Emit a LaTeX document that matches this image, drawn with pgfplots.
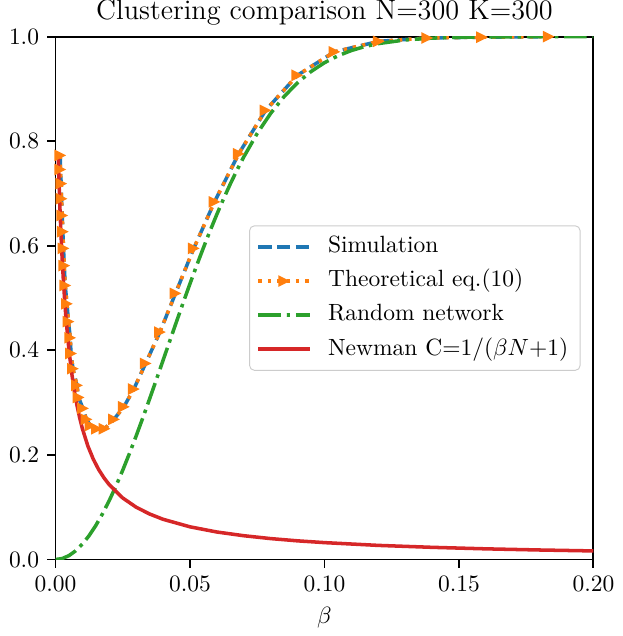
\documentclass[border={0.5pt 0pt 0pt 0pt}]{standalone}
\usepackage{pgfplots}
\usepackage{pgfplotstable}
\pgfplotsset{compat=1.18}

\definecolor{tabblue}{HTML}{1F77B4}
\definecolor{taborange}{HTML}{FF7F0E}
\definecolor{tabgreen}{HTML}{2CA02C}
\definecolor{tabred}{HTML}{D62728}

% right-pointing triangle like matplotlib's '>'
\pgfdeclareplotmark{tri>}{%
  \pgfpathmoveto{\pgfqpoint{\pgfplotmarksize}{0pt}}%
  \pgfpathlineto{\pgfqpoint{-\pgfplotmarksize}{\pgfplotmarksize}}%
  \pgfpathlineto{\pgfqpoint{-\pgfplotmarksize}{-\pgfplotmarksize}}%
  \pgfpathclose
  \pgfusepathqfill}

\pgfplotstableread{
beta C
0.00175 0.773
0.00175 0.746
0.00212 0.719
0.00223 0.690
0.00249 0.658
0.00271 0.627
0.00297 0.595
0.00323 0.562
0.00361 0.524
0.00424 0.489
0.00483 0.455
0.00546 0.424
0.00576 0.394
0.00647 0.365
0.00796 0.333
0.00855 0.310
0.0102 0.289
0.0115 0.268
0.0130 0.256
0.0154 0.250
0.0182 0.250
0.0217 0.268
0.0254 0.292
0.0291 0.326
0.0335 0.375
0.0388 0.435
0.0446 0.509
0.0514 0.595
0.0591 0.684
0.0681 0.776
0.0781 0.859
0.0899 0.926
0.1037 0.971
0.1202 0.991
0.1382 0.9975
0.1586 0.999
0.1834 1.000
}\theory

\pgfplotstableread{
beta C
0.0000 0.0
0.0025 0.00187
0.0050 0.00747
0.0075 0.01673
0.0100 0.02955
0.0125 0.04579
0.0150 0.06527
0.0175 0.08778
0.0200 0.11308
0.0225 0.14091
0.0250 0.17097
0.0275 0.20297
0.0300 0.23662
0.0325 0.27163
0.0350 0.30752
0.0375 0.34420
0.0400 0.38122
0.0425 0.41834
0.0450 0.45524
0.0475 0.49181
0.0500 0.52763
0.0525 0.56257
0.0550 0.59643
0.0575 0.62912
0.0600 0.66040
0.0625 0.69018
0.0650 0.71847
0.0675 0.74509
0.0700 0.77009
0.0750 0.81502
0.0800 0.85338
0.0850 0.88551
0.0900 0.91196
0.0950 0.93327
0.1000 0.95021
0.1050 0.96337
0.1100 0.97349
0.1150 0.98108
0.1200 0.98670
0.1300 0.99372
0.1400 0.99721
0.1500 0.99883
0.1600 0.99954
0.1800 0.99994
0.2000 0.99999
}\randomnet

\pgfplotstableread{
beta C
0.0010 0.7692
0.0015 0.6897
0.0020 0.6250
0.0025 0.5714
0.0030 0.5263
0.0035 0.4878
0.0040 0.4545
0.0050 0.4000
0.0060 0.3571
0.0070 0.3226
0.0080 0.2941
0.0090 0.2703
0.0100 0.2500
0.0120 0.2174
0.0140 0.1923
0.0160 0.1724
0.0180 0.1563
0.0200 0.1429
0.0250 0.1176
0.0300 0.1000
0.0350 0.0870
0.0400 0.0769
0.0500 0.0625
0.0600 0.0526
0.0700 0.0455
0.0800 0.0400
0.0900 0.0357
0.1000 0.0323
0.1200 0.0270
0.1400 0.0233
0.1600 0.0204
0.1800 0.0182
0.2000 0.0164
}\newman

\begin{document}
\begin{tikzpicture}
\begin{axis}[
  scale only axis, width=229pt, height=222.6pt,
  xmin=0, xmax=0.2, ymin=0, ymax=1,
  xtick={0,0.05,0.1,0.15,0.2},
  ytick={0,0.2,0.4,0.6,0.8,1},
  scaled x ticks=false, scaled y ticks=false,
  xticklabel style={/pgf/number format/.cd, fixed, fixed zerofill, precision=2},
  yticklabel style={/pgf/number format/.cd, fixed, fixed zerofill, precision=1},
  tick align=outside, xtick pos=bottom, ytick pos=left,
  major tick length=3.5pt,
  tick style={black, line width=0.8pt},
  axis line style={line width=0.8pt},
  title={Clustering comparison N=300 K=300},
  title style={font=\large, inner sep=0pt, yshift=-1.5pt},
  xlabel={$\beta$},
  legend cell align=left,
  legend image code/.code={\draw[mark repeat=2,mark phase=2,#1] plot coordinates {(0cm,0cm)(0.385cm,0cm)(0.77cm,0cm)};},
  legend style={at={(0.976,0.5)}, anchor=east, draw=black!20, rounded corners=2pt,
    fill=white, font=\normalsize, row sep=0.5pt,
    nodes={inner sep=2pt, text height=7.5pt, text depth=2.5pt},
    /tikz/every odd column/.append style={column sep=5pt}},
]
\addplot[tabblue, line width=1.5pt, dash pattern=on 5.55pt off 2.4pt] table[x=beta,y=C] {\theory};
\addlegendentry{Simulation}
\addplot[taborange, line width=1.5pt, dash pattern=on 1.5pt off 2.48pt,
  mark=tri>, mark size=2.5pt, mark options={solid, fill=taborange}] table[x=beta,y=C] {\theory};
\addlegendentry{Theoretical eq.(10)}
\addplot[tabgreen, line width=1.5pt, dash pattern=on 9.6pt off 2.4pt on 1.5pt off 2.4pt] table[x=beta,y=C] {\randomnet};
\addlegendentry{Random network}
\addplot[tabred, line width=1.5pt] table[x=beta,y=C] {\newman};
\addlegendentry{Newman C=1/($\beta N$+1)}
\end{axis}
\end{tikzpicture}
\end{document}
